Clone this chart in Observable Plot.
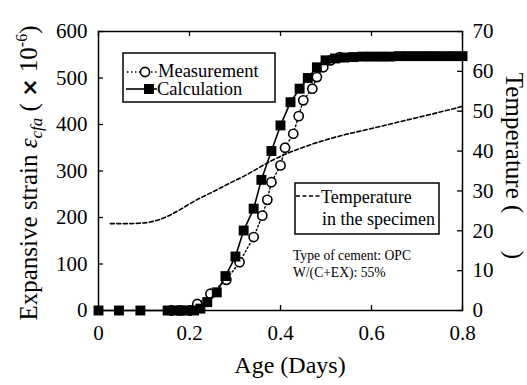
<!DOCTYPE html>
<html>
<head>
<meta charset="utf-8">
<script src="https://cdn.jsdelivr.net/npm/d3@7"></script>
<script src="https://cdn.jsdelivr.net/npm/@observablehq/plot@0.6"></script>
<style>
  html, body { margin: 0; padding: 0; background: #fff; }
  #chart svg { display: block; }
</style>
</head>
<body>
<div id="chart"></div>
<script>
// ---- data ----
const xTicks = [0, 0.2, 0.4, 0.6, 0.8];
const strainTicks = [0, 100, 200, 300, 400, 500, 600];
const tempTicks = [0, 10, 20, 30, 40, 50, 60, 70];

const measAge = [0.16, 0.18, 0.20, 0.217, 0.246, 0.281, 0.31, 0.341, 0.36, 0.371, 0.38, 0.40, 0.41, 0.428, 0.44, 0.45, 0.47, 0.48, 0.494, 0.51, 0.53];
const measStrain = [0, 0, 0, 14, 36, 66, 104, 158, 204, 238, 276, 312, 350, 380, 418, 452, 477, 502, 523, 538, 545];

const calcAge = [0, 0.045, 0.092, 0.152, 0.166, 0.18, 0.195, 0.21, 0.224, 0.239, 0.26, 0.279, 0.301, 0.319, 0.341, 0.358, 0.38, 0.40, 0.422, 0.442, 0.46, 0.48, 0.499, 0.52, 0.54, 0.56, 0.58, 0.60, 0.62, 0.64, 0.66, 0.68, 0.70, 0.72, 0.74, 0.76, 0.78, 0.80];
const calcStrain = [0, 0, 0, 0, 0, 0, 0, 0, 4, 18, 39, 74, 116, 172, 219, 281, 343, 398, 448, 477, 500, 523, 538, 542, 544, 545, 546, 546, 546, 546, 547, 547, 547, 547, 547, 547, 547, 547];

const tempAge = [0.026, 0.06, 0.09, 0.114, 0.147, 0.176, 0.213, 0.25, 0.286, 0.323, 0.374, 0.393, 0.451, 0.524, 0.598, 0.671, 0.744, 0.80];
const tempValue = [21.8, 21.8, 21.9, 22.2, 23.4, 25.1, 27.6, 29.7, 31.8, 33.9, 37.2, 38.3, 41.0, 43.6, 45.6, 47.6, 49.6, 51.2];

const strainMax = 600, tempMax = 70;
const toStrain = t => t * strainMax / tempMax;

const meas = measAge.map((a, i) => ({age: a, v: measStrain[i]}));
const calc = calcAge.map((a, i) => ({age: a, v: calcStrain[i]}));
const temp = tempAge.map((a, i) => ({age: a, v: toStrain(tempValue[i])}));

const W = 527, H = 385, ML = 98, MR = 65, MT = 31, MB = 75;
const PW = W - ML - MR, PH = H - MT - MB;
const tick = 5;
const font = "Liberation Serif";

const plot = Plot.plot({
  width: W, height: H,
  marginLeft: ML, marginRight: MR, marginTop: MT, marginBottom: MB,
  style: {fontFamily: font, background: "#fff", color: "#000"},
  x: {domain: [0, 0.8]},
  y: {domain: [0, strainMax]},
  marks: [
    Plot.axisY(strainTicks, {anchor: "left", tickSize: 0, tickPadding: 11, fontSize: 21, fontFamily: font, label: null}),
    Plot.axisY(tempTicks.map(toStrain), {anchor: "right", tickSize: 0, tickPadding: 10, fontSize: 21, fontFamily: font, label: null,
      tickFormat: d => String(Math.round(d * tempMax / strainMax))}),
    Plot.axisX(xTicks, {anchor: "bottom", tickSize: 0, tickPadding: 15, fontSize: 21, fontFamily: font, label: null,
      tickFormat: d => d === 0 ? "0" : d.toFixed(1)}),
    Plot.ruleY(strainTicks, {y: d => d, insetRight: PW - tick, strokeWidth: 1.3}),
    Plot.ruleY(tempTicks.map(toStrain), {y: d => d, insetLeft: PW - tick, strokeWidth: 1.3}),
    Plot.ruleX(xTicks, {x: d => d, insetTop: PH - tick, strokeWidth: 1.3}),
    Plot.ruleX(xTicks, {x: d => d, insetBottom: PH - tick, strokeWidth: 1.3}),
    Plot.line(temp, {x: "age", y: "v", stroke: "#000", strokeWidth: 1.6, strokeDasharray: "4,2.5", curve: "monotone-x"}),
    Plot.line(meas, {x: "age", y: "v", stroke: "#000", strokeWidth: 1.4, strokeDasharray: "1.5,2.5"}),
    Plot.dot(meas, {x: "age", y: "v", r: 4.6, stroke: "#000", strokeWidth: 1.6, fill: "#fff"}),
    Plot.line(calc, {x: "age", y: "v", stroke: "#000", strokeWidth: 1.6}),
    Plot.dot(calc, {x: "age", y: "v", symbol: "square", r: 5.6, fill: "#000", stroke: "none"}),
    Plot.frame({stroke: "#000", strokeWidth: 1.5})
  ]
});

document.getElementById("chart").appendChild(plot);
const svg = d3.select(plot).attr("font-family", font);

// Left axis title
const yl = svg.append("text")
  .attr("transform", "translate(37,173) rotate(-90)")
  .attr("text-anchor", "middle")
  .attr("font-family", font).attr("font-size", 25).attr("fill", "#000");
yl.append("tspan").text("Expansive strain ");
yl.append("tspan").attr("font-style", "italic").text("ε");
yl.append("tspan").attr("font-style", "italic").attr("font-size", 17).attr("dy", 5).text("cfa");
yl.append("tspan").attr("dy", -5).text(" ( ");
yl.append("tspan").attr("font-family", "DejaVu Sans").attr("font-weight", "bold").attr("font-size", 22).text("×");
yl.append("tspan").text(" 10");
yl.append("tspan").attr("font-size", 16).attr("dy", -10).text("-6");
yl.append("tspan").attr("dy", 10).text(")");

// Right axis title
svg.append("text")
  .attr("transform", "translate(506,166) rotate(90)")
  .attr("text-anchor", "middle")
  .attr("font-family", font).attr("font-size", 25).attr("fill", "#000")
  .text("Temperature (\u2003\u2002)");

// X axis title
svg.append("text")
  .attr("x", 290).attr("y", 373)
  .attr("text-anchor", "middle")
  .attr("font-family", font).attr("font-size", 24).attr("fill", "#000")
  .text("Age (Days)");

// Legend 1
const lg = svg.append("g").attr("font-family", font).attr("fill", "#000").attr("text-anchor", "start");
lg.append("rect").attr("x", 123).attr("y", 53).attr("width", 152).attr("height", 49)
  .attr("fill", "#fff").attr("stroke", "#000").attr("stroke-width", 1.5);
lg.append("line").attr("x1", 127).attr("x2", 158).attr("y1", 72).attr("y2", 72)
  .attr("stroke", "#000").attr("stroke-width", 1.4).attr("stroke-dasharray", "1.5,2.5");
lg.append("circle").attr("cx", 145).attr("cy", 72).attr("r", 4.6)
  .attr("fill", "#fff").attr("stroke", "#000").attr("stroke-width", 1.6);
lg.append("text").attr("x", 158).attr("y", 77).attr("font-size", 18.5).attr("text-anchor", "start").text("Measurement");
lg.append("line").attr("x1", 126).attr("x2", 157).attr("y1", 89).attr("y2", 89)
  .attr("stroke", "#000").attr("stroke-width", 1.6);
lg.append("rect").attr("x", 144).attr("y", 84).attr("width", 10).attr("height", 10).attr("fill", "#000");
lg.append("text").attr("x", 157).attr("y", 95).attr("font-size", 18.5).attr("text-anchor", "start").text("Calculation");

// Legend 2
const lg2 = svg.append("g").attr("font-family", font).attr("fill", "#000").attr("text-anchor", "start");
lg2.append("rect").attr("x", 295).attr("y", 183).attr("width", 144).attr("height", 51)
  .attr("fill", "#fff").attr("stroke", "#000").attr("stroke-width", 1.5);
lg2.append("line").attr("x1", 296).attr("x2", 321).attr("y1", 196).attr("y2", 196)
  .attr("stroke", "#000").attr("stroke-width", 1.6).attr("stroke-dasharray", "4,2.5");
lg2.append("text").attr("x", 321).attr("y", 203).attr("font-size", 18).attr("text-anchor", "start").text("Temperature");
lg2.append("text").attr("x", 322).attr("y", 225).attr("font-size", 18).attr("text-anchor", "start").text("in the specimen");

// Annotation
const an = svg.append("g").attr("font-family", font).attr("fill", "#000").attr("font-size", 13.6).attr("text-anchor", "start");
an.append("text").attr("x", 293).attr("y", 260).text("Type of cement: OPC");
an.append("text").attr("x", 293).attr("y", 277).text("W/(C+EX): 55%");
</script>
</body>
</html>
